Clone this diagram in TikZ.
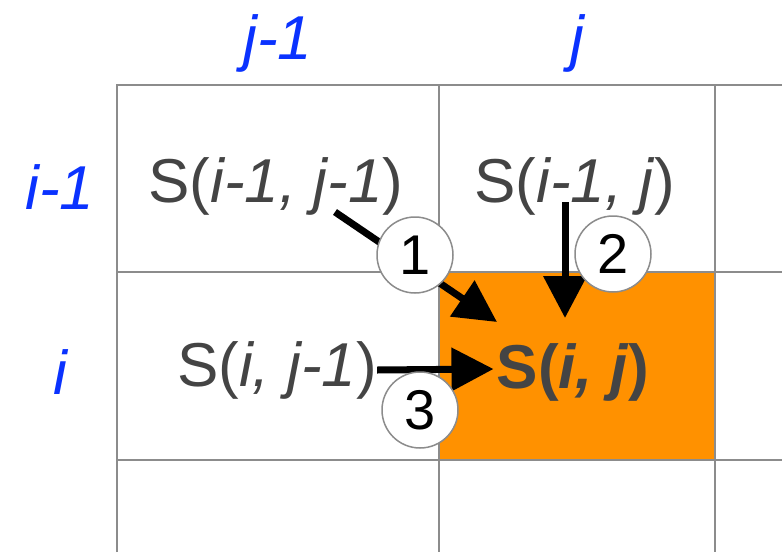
\documentclass[tikz,border=0pt]{standalone}
\usepackage{fontspec}
\setmainfont{Liberation Sans}
\usetikzlibrary{calc,arrows.meta}
\definecolor{CellOrange}{RGB}{255,145,0}
\definecolor{HdrBlue}{RGB}{10,50,255}
\definecolor{TextGray}{RGB}{68,68,68}
\definecolor{GridGray}{RGB}{140,140,140}
\tikzset{cell/.style={text=TextGray,inner sep=0pt,font=\fontsize{62}{70}\selectfont}, hdr/.style={text=HdrBlue,inner sep=0pt,font=\fontsize{62}{70}\selectfont\itshape}, num/.style={circle,draw=GridGray,line width=1.5pt,fill=white,minimum size=76pt,inner sep=0pt,font=\fontsize{56}{60}\selectfont}, gridline/.style={draw=GridGray,line width=2pt}, move/.style={line width=7pt,-{Triangle[length=42pt,width=42pt]}}}

\begin{document}
\begin{tikzpicture}[x=1pt,y=-1pt]
\useasboundingbox (0,0) rectangle (782,552);
\fill[CellOrange] (439,272) rectangle (715,460);
% grid
\draw[gridline] (117,552) -- (117,85) -- (782,85);
\draw[gridline] (117,272) -- (782,272);
\draw[gridline] (117,460) -- (782,460);
\draw[gridline] (439,85) -- (439,552);
\draw[gridline] (715,85) -- (715,552);
% headers
\node[hdr] (hj1) at (278,43) {j-1};
\node[hdr] (hj) at (577,43) {j};
\node[hdr] (hi1) at (60,187) {i-1};
\node[hdr] (hi) at (60,372) {i};
% cells
\node[cell] (s11) at (276,186) {S(\textit{i-1, j-1})};
\node[cell] (s12) at (575,186) {S(\textit{i-1, j})};
\node[cell] (s21) at (277,370) {S(\textit{i, j-1})};
\node[cell,font=\fontsize{62}{70}\selectfont\bfseries] (s22) at (573,372) {S(\textit{i, j})};
% moves
\draw[move] ($(s11.center)+(59,26)$) -- ($(s22.center)+(-76,-50)$);
\draw[move] ($(s12.center)+(-10,16)$) -- ($(s22.center)+(-8,-54)$);
\draw[move] (s21.east) -- ($(s22.west)+(-3,-3)$);
\node[num] (c1) at (415,255) {1};
\node[num] (c2) at (613,254) {2};
\node[num] (c3) at (420,410) {3};
\end{tikzpicture}
\end{document}
